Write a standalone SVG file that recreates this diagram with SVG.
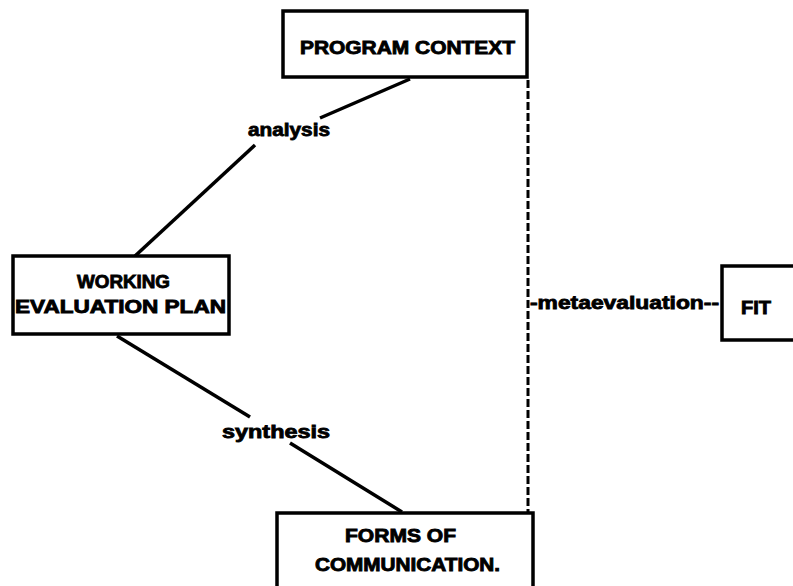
<svg xmlns="http://www.w3.org/2000/svg" width="793" height="586" viewBox="0 0 793 586">
<style>
.box{fill:#fff;stroke:#000;stroke-width:3.5}
.t{font-family:"Liberation Sans",Arial,sans-serif;font-weight:bold;font-size:19px;fill:#000;stroke:#000;stroke-width:0.9}
.l{font-family:"Liberation Sans",Arial,sans-serif;font-weight:bold;font-size:18px;fill:#000;stroke:#000;stroke-width:0.8}
.c{stroke:#000;stroke-width:3.5;fill:none}
.d{stroke:#000;stroke-width:3;fill:none;stroke-dasharray:8,3}
</style>
<rect width="793" height="586" fill="#fff"/>
<g id="connectors">
<line class="c" x1="410" y1="79" x2="320" y2="118"/>
<line class="c" x1="255" y1="145" x2="135" y2="256"/>
<line class="c" x1="117" y1="336" x2="250" y2="417"/>
<line class="c" x1="290" y1="443" x2="402" y2="512"/>
<line class="d" x1="528" y1="80" x2="528" y2="586"/>
<text class="l" x="530" y="309" textLength="189" lengthAdjust="spacingAndGlyphs">-metaevaluation--</text>
<text class="l" x="248" y="136" textLength="82" lengthAdjust="spacingAndGlyphs">analysis</text>
<text class="l" x="222" y="438" textLength="108" lengthAdjust="spacingAndGlyphs">synthesis</text>
</g>
<g id="program-context">
<rect class="box" x="283" y="11" width="244" height="66"/>
<text class="t" x="300" y="54" textLength="215" lengthAdjust="spacingAndGlyphs">PROGRAM CONTEXT</text>
</g>
<g id="working-evaluation-plan">
<rect class="box" x="13" y="256" width="216" height="78"/>
<text class="t" x="77" y="288" textLength="93" lengthAdjust="spacingAndGlyphs">WORKING</text>
<text class="t" x="15" y="313" textLength="211" lengthAdjust="spacingAndGlyphs">EVALUATION PLAN</text>
</g>
<g id="fit">
<rect class="box" x="722" y="266" width="80" height="74"/>
<text class="t" x="741" y="314" textLength="30" lengthAdjust="spacingAndGlyphs">FIT</text>
</g>
<g id="forms-of-communication">
<rect class="box" x="277" y="513" width="256" height="90"/>
<text class="t" x="345" y="542" textLength="111" lengthAdjust="spacingAndGlyphs">FORMS OF</text>
<text class="t" x="315" y="571" textLength="185" lengthAdjust="spacingAndGlyphs">COMMUNICATION.</text>
</g>
</svg>
